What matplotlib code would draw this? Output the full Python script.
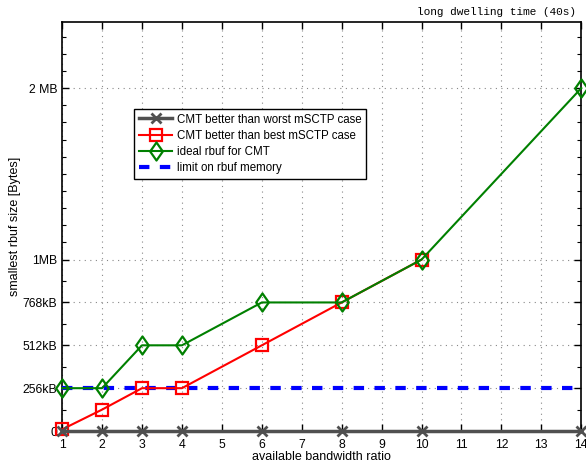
import numpy as np
import matplotlib.pyplot as plt
from matplotlib.ticker import FixedLocator
from matplotlib.path import Path

MB = 1024 * 1024
kB = 1024

ratio_worst = [1, 2, 3, 4, 6, 8, 10, 14]
rbuf_worst = [0, 0, 0, 0, 0, 0, 0, 0]
ratio_best = [1, 2, 3, 4, 6, 8, 10]
rbuf_best = [10 * kB, 128 * kB, 256 * kB, 256 * kB, 512 * kB, 768 * kB, 1 * MB]
ratio_ideal = [1, 2, 3, 4, 6, 8, 10, 14]
rbuf_ideal = [256 * kB, 256 * kB, 512 * kB, 512 * kB, 768 * kB, 768 * kB, 1 * MB, 2 * MB]
limit_x = [1, 14]
limit_y = [256 * kB, 256 * kB]

ytick_vals = [0, 256 * kB, 512 * kB, 768 * kB, 1 * MB, 2 * MB]
ytick_labels = ['0', '256kB', '512kB', '768kB', '1MB', '2 MB']

# matlab-like diamond (a bit taller than wide)
diamond = Path([(0, 1), (0.7, 0), (0, -1), (-0.7, 0), (0, 1)],
               [Path.MOVETO, Path.LINETO, Path.LINETO, Path.LINETO, Path.CLOSEPOLY])

plt.rcParams['font.family'] = ['Liberation Sans', 'DejaVu Sans']
plt.rcParams['font.size'] = 8.8

fig = plt.figure(figsize=(5.86, 4.63), dpi=100)
ax = fig.add_axes([0.106, 0.069, 0.886, 0.883])

ax.plot(ratio_worst, rbuf_worst, color='#505050', marker='x', ms=7, mew=2, lw=2.5,
        label='CMT better than worst mSCTP case', zorder=5, clip_on=False)
ax.plot(ratio_best, rbuf_best, color='red', marker='s', ms=8.5, mfc='none', mew=1.6, lw=1.5,
        label='CMT better than best mSCTP case', zorder=4, clip_on=False)
ax.plot(ratio_ideal, rbuf_ideal, color='green', marker=diamond, ms=13, mfc='none', mew=1.6, lw=1.5,
        label='ideal rbuf for CMT', zorder=4, clip_on=False)
ax.plot(limit_x, limit_y, color='blue', ls=(0, (2.5, 2.5)), lw=3,
        label='limit on rbuf memory', zorder=3)

ax.set_xlim(1, 14)
ax.set_ylim(0, 2.5e6)
ax.set_xticks(range(1, 15))
ax.set_yticks(ytick_vals)
ax.set_yticklabels(ytick_labels)
minor = [128 * kB, 384 * kB, 640 * kB, 896 * kB] + [MB + i * 0.1 * MB for i in range(1, 10)] + \
        [2 * MB + i * 0.1 * MB for i in range(1, 4)]
ax.yaxis.set_minor_locator(FixedLocator(minor))
ax.tick_params(which='both', direction='in', top=True, right=True)
ax.tick_params(which='major', length=5, width=1)
ax.tick_params(axis='x', pad=6)
ax.tick_params(which='minor', length=3, width=0.8)
ax.grid(True, which='major', ls=(0, (1, 4)), color='#888888', lw=0.8)
for s in ax.spines.values():
    s.set_linewidth(1.2)

ax.set_xlabel('available bandwidth ratio', labelpad=0, fontsize=9)
ax.set_ylabel('smallest rbuf size [Bytes]', labelpad=1, fontsize=9)

leg = ax.legend(loc='upper left', bbox_to_anchor=(0.139, 0.788), fancybox=False,
                edgecolor='black', framealpha=1, borderpad=0.4, labelspacing=0.36,
                handlelength=2.9, handletextpad=0.4, fontsize=8.3, borderaxespad=0)
leg.get_frame().set_linewidth(1.0)

fig.text(0.983, 0.985, 'long dwelling time (40s)', family='Liberation Mono',
         ha='right', va='top', fontsize=8)

fig.savefig('out.png', dpi=100)
